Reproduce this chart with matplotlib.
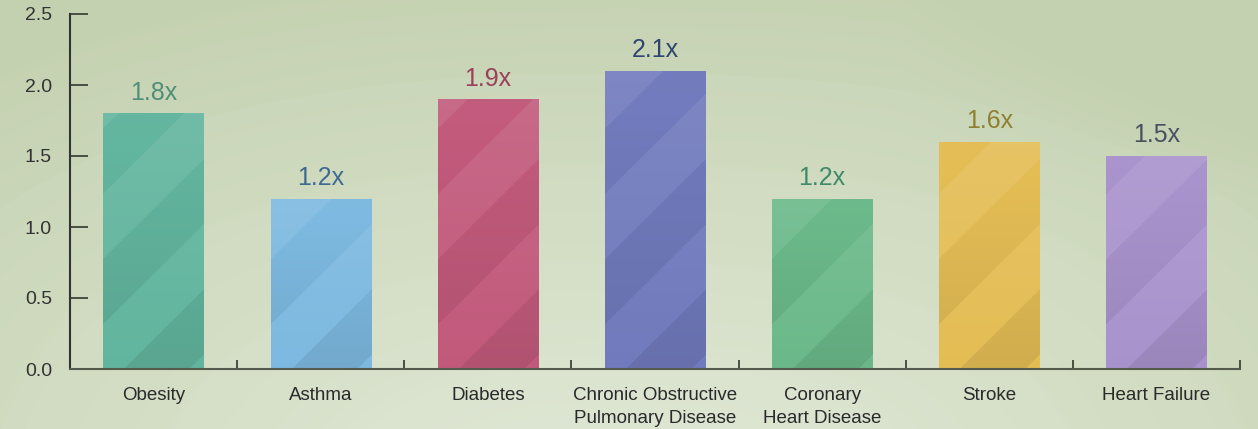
import numpy as np
import matplotlib.pyplot as plt
from matplotlib.colors import to_rgb

# chart data
categories = ["Obesity", "Asthma", "Diabetes", "Chronic Obstructive\nPulmonary Disease",
              "Coronary\nHeart Disease", "Stroke", "Heart Failure"]
risk = [1.8, 1.2, 1.9, 2.1, 1.2, 1.6, 1.5]
value_labels = ["1.8x", "1.2x", "1.9x", "2.1x", "1.2x", "1.6x", "1.5x"]

bar_colors = ["#62b59e", "#7db9e0", "#c25a7c", "#717bbd", "#6bb98a", "#e4bd55", "#a993cd"]
label_colors = ["#4f8f78", "#3f6a90", "#9a4058", "#2f4470", "#3f8a68", "#8f8030", "#4a5060"]

W, H, DPI = 1258, 429, 100
plt.rcParams['font.family'] = ['Liberation Sans', 'DejaVu Sans']

fig = plt.figure(figsize=(W / DPI, H / DPI), dpi=DPI)

# soft banded background, lighter toward the bottom centre
bg = fig.add_axes([0, 0, 1, 1], zorder=-5)
yy, xx = np.mgrid[0:H, 0:W]
dx = (xx - 620) / 950.0
dy = (yy - 540) / 560.0
d = (np.abs(dx) ** 2.4 + np.abs(dy) ** 2.4) ** (1 / 2.4)
band = np.floor(d * 6) / 6
t = np.clip(0.3 * band + 0.7 * d, 0, 1)
# slightly darker toward the upper right corner
t = t + 0.25 * np.clip((xx - 900) / 358.0, 0, 1) * np.clip((200 - yy) / 200.0, 0, 1)
c0 = np.array(to_rgb("#e1e9d7"))
c1 = np.array(to_rgb("#c4d1b0"))
img = c0 + (c1 - c0) * np.clip(t, 0, 1)[..., None] ** 1.2
bg.imshow(img, extent=(0, W, H, 0), aspect='auto', interpolation='bilinear')
bg.set_xlim(0, W); bg.set_ylim(H, 0)
bg.axis('off')

ax = fig.add_axes([70 / W, 60 / H, 1170 / W, 355 / H])
ax.set_facecolor('none')

x = np.arange(len(categories)) + 0.5
bars = ax.bar(x, risk, width=0.6, color=bar_colors, zorder=2, linewidth=0)

# diagonal stripes and vertical shading inside each bar
px_per_x = 1170 / 7.0
px_per_y = 355 / 2.5
for bar, col in zip(bars, bar_colors):
    x0, w, h = bar.get_x(), bar.get_width(), bar.get_height()
    nx, ny = int(w * px_per_x), int(h * px_per_y)
    py, pxg = np.mgrid[0:ny, 0:nx]
    phase = ((py - pxg + 20) % 130) / 130.0
    stripe = np.where(phase < 0.5, 0.045, -0.035)
    vert = py / max(ny, 1)
    base = np.array(to_rgb(col))
    shade = stripe + 0.10 * (vert - 0.5)
    rgb = np.where(shade[..., None] >= 0,
                   base + (1 - base) * shade[..., None],
                   base * (1 + shade[..., None]))
    im = ax.imshow(np.clip(rgb, 0, 1), extent=(x0, x0 + w, 0, h), origin='lower',
                   aspect='auto', interpolation='bilinear', zorder=3)
    im.set_clip_path(bar)

for xi, v, lab, lc in zip(x, risk, value_labels, label_colors):
    ax.text(xi, v + 0.06, lab, ha='center', va='bottom', fontsize=18, color=lc, zorder=4)

ax.set_xlim(0, 7)
ax.set_ylim(0, 2.5)

ax.set_xticks(np.arange(1, 8))
ax.set_xticklabels([])
ax.set_xticks(x, minor=True)
ax.set_xticklabels(categories, minor=True, fontsize=13.5, color='#2a2a2a', linespacing=1.45)
ax.tick_params(axis='x', which='major', direction='in', length=6.5, width=1.3, color='#3e4438')
ax.tick_params(axis='x', which='minor', length=0, pad=13)

ax.set_yticks([0, 0.5, 1.0, 1.5, 2.0, 2.5])
ax.set_yticklabels(["0.0", "0.5", "1.0", "1.5", "2.0", "2.5"], fontsize=14, color='#333333')
ax.tick_params(axis='y', direction='in', length=13, width=1.3, color='#3e4438', pad=13)

for s in ('top', 'right'):
    ax.spines[s].set_visible(False)
ax.spines['left'].set_color('#333333')
ax.spines['left'].set_linewidth(1.5)
ax.spines['bottom'].set_color('#555b4c')
ax.spines['bottom'].set_linewidth(1.5)
ax.spines['left'].set_zorder(5)
ax.spines['bottom'].set_zorder(5)

fig.savefig("out.png", dpi=DPI)
